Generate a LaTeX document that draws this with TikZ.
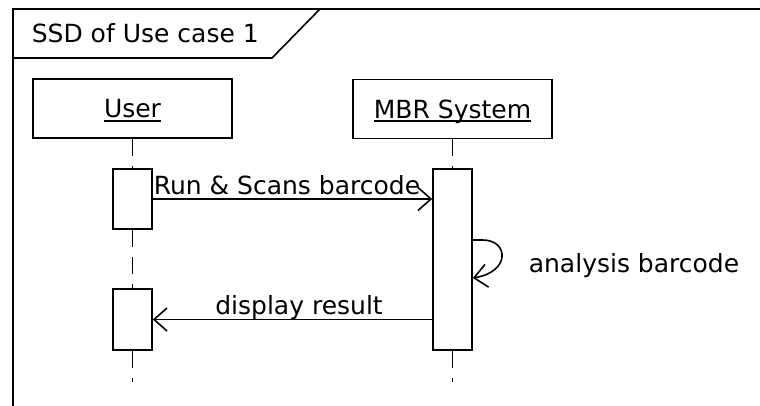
\documentclass[tikz,border=0pt]{standalone}
\usepackage{fontspec}
\setmainfont{DejaVu Sans}
\usetikzlibrary{arrows.meta}
\newcommand\sdul[1]{\setbox0\hbox{#1}\rlap{\rule[-4pt]{\wd0}{1.6pt}}\box0}
\begin{document}
\begin{tikzpicture}[x=1pt,y=-1pt,
  every node/.style={font=\fontsize{25}{30}\selectfont, inner sep=0pt},
  line width=1.6pt,
  objbox/.style={draw, rectangle, minimum width=199pt, minimum height=59pt, text height=18pt, text depth=0pt},
  actbox/.style={draw, fill=white, rectangle, minimum width=39pt},
  lifeline/.style={dash pattern=on 17pt off 10pt},
  msg/.style={-{Straight Barb[length=13pt,width=23pt,line width=1.6pt]}},
  lbl/.style={anchor=base west}]
\useasboundingbox (0,0) rectangle (760,405);
% frame
\draw (13,410) -- (13,9) -- (765,9);
\draw (13,58) -- (272,58) -- (320,9);
\node[anchor=base west] (title) at (31,42) {SSD of Use case 1};
% objects
\node[objbox] (user) at (132.5,108.5) {\sdul{User}};
\node[objbox] (mbr) at (452.5,109) {\sdul{MBR System}};
% activations
\node[actbox, minimum height=60pt] (ua1) at (132.5,199) {};
\node[actbox, minimum height=61pt] (ua2) at (132.5,319.5) {};
\node[actbox, minimum height=181pt] (ma) at (452.5,259.5) {};
% lifelines
\coordinate (uend) at (132.5,382);
\coordinate (mend) at (452.5,382);
\draw[lifeline] (user.south) -- (ua1.north);
\draw[lifeline] (ua1.south) -- (ua2.north);
\draw[lifeline] (ua2.south) -- (uend);
\draw[lifeline] (mbr.south) -- (ma.north);
\draw[lifeline] (ma.south) -- (mend);
% messages
\draw[msg] (ua1.east) -- (ua1.east -| ma.west);
\node[anchor=base west] (m1) at (153,194) {Run \& Scans barcode};
\coordinate (s1) at ([yshift=19.5pt]ma.east);
\coordinate (s2) at ([yshift=-18.5pt]ma.east);
\draw[msg] (s1) -- ++(10,0) .. controls +(26,0) and +(38,-6) .. (s2);
\node[anchor=base west] (m2) at (528,272) {analysis barcode};
\draw[msg] (ua2.east -| ma.west) -- (ua2.east);
\node[anchor=base] (m3) at (299,314) {display result};
\end{tikzpicture}
\end{document}
